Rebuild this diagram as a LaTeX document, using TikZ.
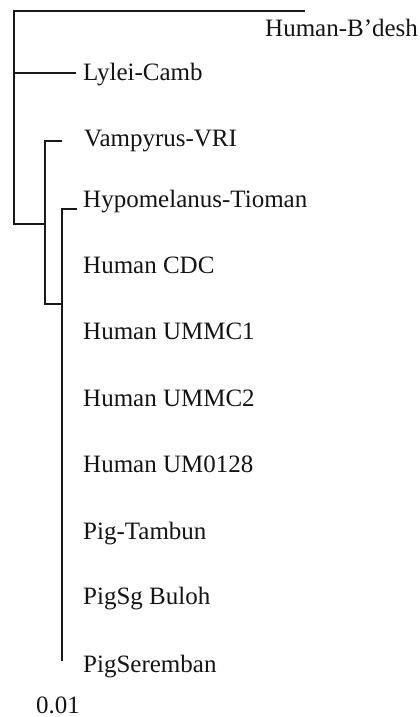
\documentclass[tikz,border=0pt]{standalone}
\usepackage{fontspec}
\setmainfont{Liberation Serif}
\begin{document}
\begin{tikzpicture}[x=1pt,y=-1pt,
  branch/.style={draw=black!90,line width=2pt},
  leaf/.style={anchor=base west,inner sep=0pt,text=black!92,font=\fontsize{25}{30}\selectfont}]
\useasboundingbox (0,0) rectangle (420,717);
% leaves
\node[leaf] (hb) at (265,37) {Human-B’desh};
\node[leaf] (ly) at (83,81) {Lylei-Camb};
\node[leaf] (va) at (84,146) {Vampyrus-VRI};
\node[leaf] (hy) at (83,207) {Hypomelanus-Tioman};
\node[leaf] (hc) at (83,273) {Human CDC};
\node[leaf] (h1) at (83,339) {Human UMMC1};
\node[leaf] (h2) at (83,406) {Human UMMC2};
\node[leaf] (h3) at (83,472) {Human UM0128};
\node[leaf] (pt) at (83,539) {Pig-Tambun};
\node[leaf] (ps) at (83,604) {PigSg Buloh};
\node[leaf] (pr) at (83,672) {PigSeremban};
\node[leaf] (sc) at (36,713) {0.01};
% tree coordinates
\coordinate (tipB) at (305,11);
\coordinate (rtop) at (13.5,11);
\coordinate (rL) at (13.5,73);
\coordinate (tipL) at (76,73);
\coordinate (rbot) at (13.5,224);
\coordinate (c1) at (45,224);
\coordinate (c1top) at (45,141);
\coordinate (tipV) at (62,141);
\coordinate (c1bot) at (45,304);
\coordinate (c2) at (61.5,304);
\coordinate (c2top) at (61.5,209);
\coordinate (tipH) at (77,209);
\coordinate (c2bot) at (61.5,661);
% branches
\draw[branch] (tipB) -- (rtop) -- (rbot) -- (c1);
\draw[branch] (rL) -- (tipL);
\draw[branch] (tipV) -- (c1top) -- (c1bot) -- (c2);
\draw[branch] (tipH) -- (c2top) -- (c2bot);
\end{tikzpicture}
\end{document}
